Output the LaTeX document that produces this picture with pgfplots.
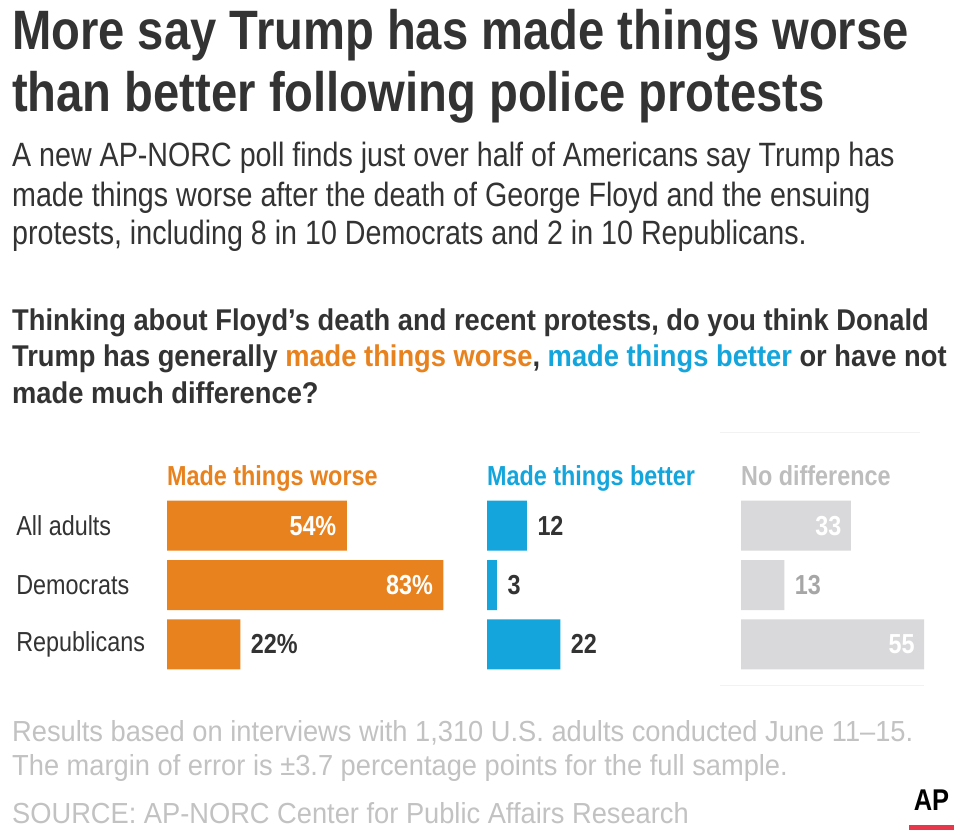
\documentclass[border=0pt]{standalone}
\usepackage{fontspec}
\setmainfont{Liberation Sans}[FakeStretch=0.85]
\newfontfamily\qfont{Liberation Sans}[FakeStretch=0.91]
\newfontfamily\footfont{Liberation Sans}[FakeStretch=0.94]
\usepackage{pgfplots}
\pgfplotsset{compat=1.18}
\definecolor{txt}{HTML}{333333}
\definecolor{orng}{HTML}{E8821E}
\definecolor{blu}{HTML}{13A5DC}
\definecolor{gbar}{HTML}{D9D9DB}
\definecolor{ghead}{HTML}{BDBDBD}
\definecolor{gnum}{HTML}{A6A6A6}
\definecolor{foot}{HTML}{C2C2C2}
\definecolor{apred}{HTML}{E8374A}
\newcommand{\fs}[1]{\fontsize{#1}{#1}\selectfont}
\pgfplotsset{panel/.style={
  xbar, scale only axis, width=333pt, height=178pt,
  xmin=0, xmax=100, ymin=-0.5, ymax=2.5, y dir=reverse,
  bar width=50pt, hide axis, clip=false, anchor=north west}}
\begin{document}
\begin{tikzpicture}[x=1pt,y=1pt]
\fill[white] (0,0) rectangle (960,836);
% title
\node[anchor=base west, inner sep=0, text=txt, font=\fs{55.5}\bfseries] at (12,786) {More say Trump has made things worse};
\node[anchor=base west, inner sep=0, text=txt, font=\fs{55.5}\bfseries] at (12,724) {than better following police protests};
% subtitle
\node[anchor=base west, inner sep=0, text=txt, font=\fs{33.7}] at (12,669) {A new AP-NORC poll finds just over half of Americans say Trump has};
\node[anchor=base west, inner sep=0, text=txt, font=\fs{33.7}] at (12,629) {made things worse after the death of George Floyd and the ensuing};
\node[anchor=base west, inner sep=0, text=txt, font=\fs{33.7}] at (12,591) {protests, including 8 in 10 Democrats and 2 in 10 Republicans.};
% question
\node[anchor=base west, inner sep=0, text=txt, font=\qfont\fs{30}\bfseries] at (12,505) {Thinking about Floyd’s death and recent protests, do you think Donald};
\node[anchor=base west, inner sep=0, text=txt, font=\qfont\fs{30}\bfseries] at (12,469) {Trump has generally \textcolor{orng}{made things worse}, \textcolor{blu}{made things better} or have not};
\node[anchor=base west, inner sep=0, text=txt, font=\qfont\fs{30}\bfseries] at (12,432) {made much difference?};
% faint panel lines
\draw[gray!10, line width=1pt] (720,403) -- (920,403);
\draw[gray!10, line width=1pt] (720,151) -- (924,151);
% headers
\node[anchor=base west, inner sep=0, text=orng, font=\fs{27.5}\bfseries] at (167,351) {Made things worse};
\node[anchor=base west, inner sep=0, text=blu, font=\fs{27.5}\bfseries] at (487,351) {Made things better};
\node[anchor=base west, inner sep=0, text=ghead, font=\fs{27.5}\bfseries] at (741,351) {No difference};
% panel 1
\begin{axis}[panel, at={(167pt,340pt)}]
\addplot[fill=orng, draw=none] coordinates {(54,0) (83,1) (22,2)};
\node[anchor=east, text=white, font=\fs{27.5}\bfseries, xshift=-7pt] at (axis cs:54,0) {54\%};
\node[anchor=east, text=white, font=\fs{27.5}\bfseries, xshift=-7pt] at (axis cs:83,1) {83\%};
\node[anchor=west, text=txt, font=\fs{27.5}\bfseries, xshift=7pt] at (axis cs:22,2) {22\%};
\node[anchor=west, text=txt, font=\fs{27.5}, inner sep=0] at (axis cs:-45.3,0) {All adults};
\node[anchor=west, text=txt, font=\fs{27.5}, inner sep=0] at (axis cs:-45.3,1) {Democrats};
\node[anchor=west, text=txt, font=\fs{27.5}, inner sep=0] at (axis cs:-45.3,2) {Republicans};
\end{axis}
% panel 2
\begin{axis}[panel, at={(487pt,340pt)}]
\addplot[fill=blu, draw=none] coordinates {(12,0) (3,1) (22,2)};
\node[anchor=west, text=txt, font=\fs{27.5}\bfseries, xshift=7pt] at (axis cs:12,0) {12};
\node[anchor=west, text=txt, font=\fs{27.5}\bfseries, xshift=7pt] at (axis cs:3,1) {3};
\node[anchor=west, text=txt, font=\fs{27.5}\bfseries, xshift=7pt] at (axis cs:22,2) {22};
\end{axis}
% panel 3
\begin{axis}[panel, at={(741pt,340pt)}]
\addplot[fill=gbar, draw=none] coordinates {(33,0) (13,1) (55,2)};
\node[anchor=east, text=white, font=\fs{27.5}\bfseries, xshift=-6pt] at (axis cs:33,0) {33};
\node[anchor=west, text=gnum, font=\fs{27.5}\bfseries, xshift=7pt] at (axis cs:13,1) {13};
\node[anchor=east, text=white, font=\fs{27.5}\bfseries, xshift=-6pt] at (axis cs:55,2) {55};
\end{axis}
% footer
\node[anchor=base west, inner sep=0, text=foot, font=\footfont\fs{29}] at (12,95) {Results based on interviews with 1,310 U.S. adults conducted June 11–15.};
\node[anchor=base west, inner sep=0, text=foot, font=\footfont\fs{29}] at (12,61) {The margin of error is ±3.7 percentage points for the full sample.};
\node[anchor=base west, inner sep=0, text=foot, font=\footfont\fs{29}] at (12,13) {SOURCE: AP-NORC Center for Public Affairs Research};
% AP logo
\node[anchor=base, inner sep=0, text=black, font=\fs{30}\bfseries] at (931.5,26) {AP};
\fill[apred] (909,6) rectangle (954,11);
\end{tikzpicture}
\end{document}
